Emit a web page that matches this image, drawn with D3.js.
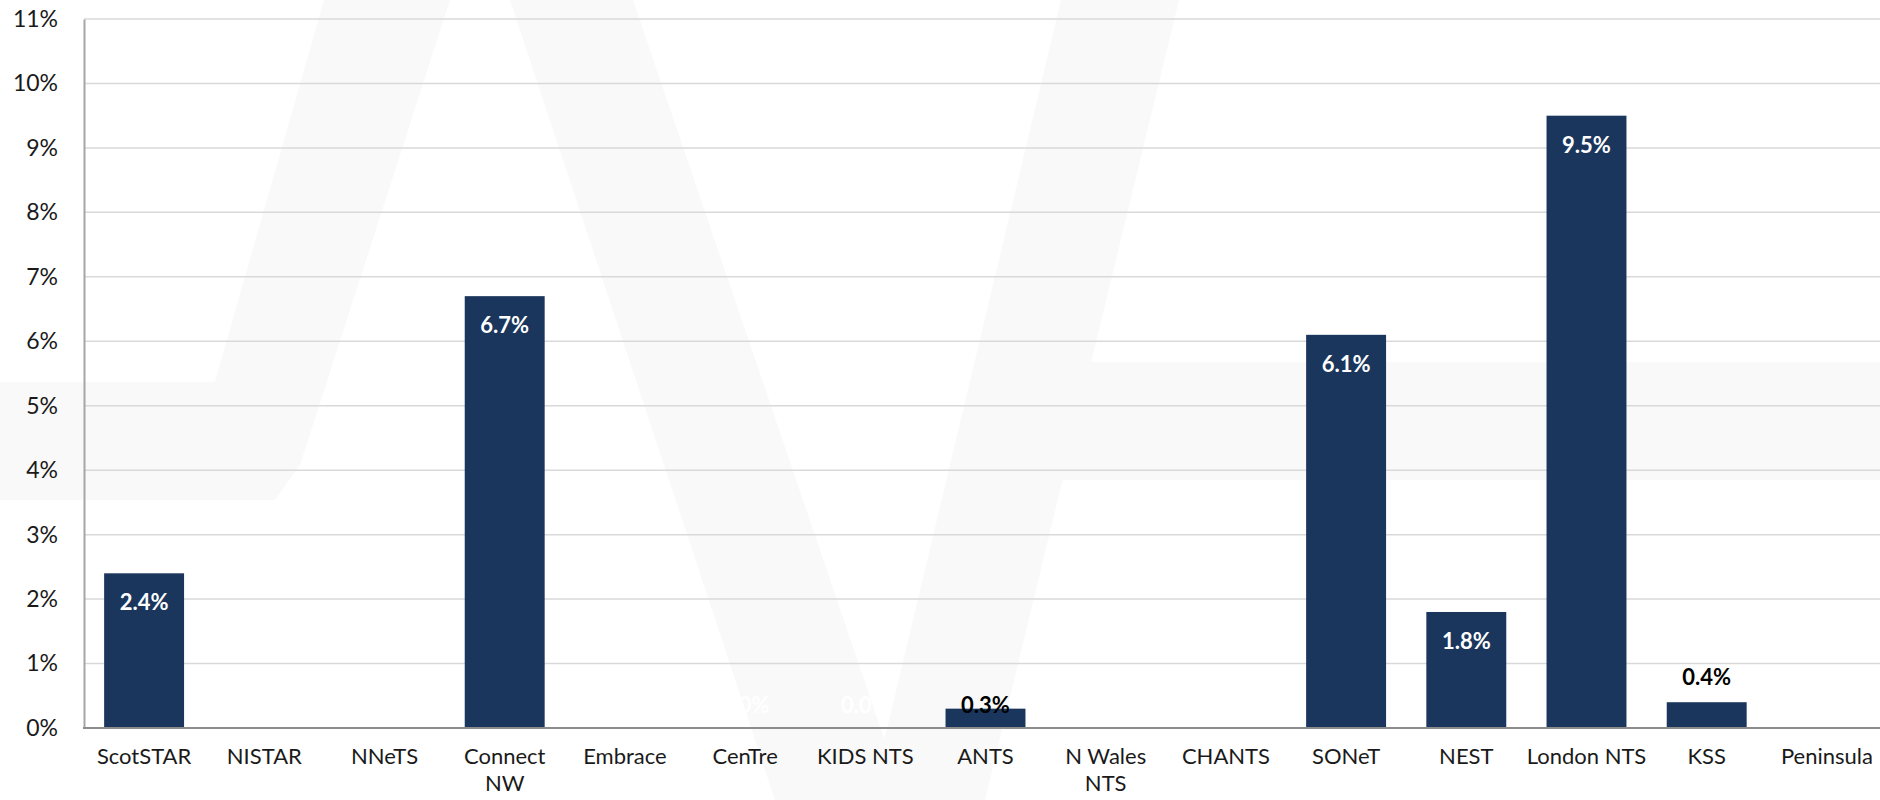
<!DOCTYPE html>
<html>
<head>
<meta charset="utf-8">
<script src="https://cdn.jsdelivr.net/npm/d3@7"></script>
<style>
  html, body { margin: 0; padding: 0; background: #ffffff; }
  svg { display: block; }
  text { font-family: Lato, "Open Sans", sans-serif; }
</style>
</head>
<body>
<svg id="chart" width="1880" height="800"></svg>
<script>
// ---- data ----
const categories = ["ScotSTAR", "NISTAR", "NNeTS", "Connect NW", "Embrace", "CenTre", "KIDS NTS", "ANTS", "N Wales NTS", "CHANTS", "SONeT", "NEST", "London NTS", "KSS", "Peninsula"];
const values = [2.4, 0.0, 0.0, 6.7, 0.0, 0.0, 0.0, 0.3, null, null, 6.1, 1.8, 9.5, 0.4, null];
const yTicks = [0, 1, 2, 3, 4, 5, 6, 7, 8, 9, 10, 11];
const outsideEndLabels = ["KSS"];

// ---- layout ----
const W = 1880, H = 800;
const margin = { left: 84, top: 19, bottom: 72 };
const plotRight = 1887;
const svg = d3.select("#chart");

const x = d3.scaleBand()
  .domain(categories)
  .range([margin.left, plotRight])
  .paddingInner(0.335)
  .paddingOuter(0.1675);

const y = d3.scaleLinear()
  .domain([0, 11])
  .range([H - margin.bottom, margin.top]);

// ---- faint background watermark ----
const wm = svg.append("g").attr("fill", "#f9f9f9");
const poly = d3.line();
wm.append("path").attr("d", poly([[324,0],[450,0],[300,465],[275,500],[0,500],[0,382],[215,382]]) + "Z");
wm.append("path").attr("d", poly([[510,0],[633,0],[905,800],[775,800]]) + "Z");
wm.append("path").attr("d", poly([[1061,0],[1179,0],[985,800],[870,800]]) + "Z");
wm.append("path").attr("d", poly([[1010,362],[1880,362],[1880,480],[1063,480],[975,480],[985,380]]) + "Z");

// ---- gridlines ----
svg.append("g")
  .selectAll("line")
  .data(yTicks.filter(d => d > 0))
  .join("line")
  .attr("x1", margin.left)
  .attr("x2", W)
  .attr("y1", d => y(d))
  .attr("y2", d => y(d))
  .attr("stroke", "#d9d9d9")
  .attr("stroke-width", 1.5);

// ---- y axis ----
const yAxis = svg.append("g")
  .attr("transform", `translate(${margin.left},0)`)
  .call(d3.axisLeft(y).tickValues(yTicks).tickSize(0).tickSizeOuter(0).tickPadding(26).tickFormat(d => d + "%"));
yAxis.select(".domain").attr("stroke", "#a6a6a6").attr("stroke-width", 2);
yAxis.selectAll("text")
  .attr("font-size", 23)
  .attr("fill", "#1a1a1a")
  .style("font-family", "Lato, sans-serif");

// ---- bars ----
const data = categories.map((c, i) => ({ c, v: values[i] }));
svg.append("g")
  .selectAll("rect")
  .data(data.filter(d => d.v !== null && d.v > 0))
  .join("rect")
  .attr("x", d => x(d.c))
  .attr("width", x.bandwidth())
  .attr("y", d => y(d.v))
  .attr("height", d => y(0) - y(d.v))
  .attr("fill", "#1a365d");

// ---- x axis ----
const xAxis = svg.append("g")
  .attr("transform", `translate(0,${y(0)})`)
  .call(d3.axisBottom(x).tickSize(0).tickSizeOuter(0).tickPadding(20));
xAxis.select(".domain").remove();
svg.append("line")
  .attr("x1", margin.left - 1).attr("x2", W)
  .attr("y1", y(0)).attr("y2", y(0))
  .attr("stroke", "#8c8c8c").attr("stroke-width", 2);

xAxis.selectAll("text")
  .attr("font-size", 22)
  .attr("fill", "#1a1a1a")
  .style("font-family", "Lato, sans-serif")
  .each(function () {
    const t = d3.select(this);
    const words = t.text().split(/\s+/);
    const maxW = x.step() + 1;
    t.text(null);
    let line = [];
    let tspan = t.append("tspan").attr("x", 0).attr("dy", "0.71em");
    words.forEach(w => {
      line.push(w);
      tspan.text(line.join(" "));
      if (tspan.node().getComputedTextLength() > maxW && line.length > 1) {
        line.pop();
        tspan.text(line.join(" "));
        line = [w];
        tspan = t.append("tspan").attr("x", 0).attr("dy", "27px").text(w);
      }
    });
  });

// ---- data labels ----
svg.append("g")
  .selectAll("text")
  .data(data.filter(d => d.v !== null))
  .join("text")
  .attr("x", d => x(d.c) + x.bandwidth() / 2)
  .attr("y", d => {
    if (outsideEndLabels.includes(d.c)) return y(d.v) - 17;
    return Math.min(y(d.v) + 37, y(0) - 15);
  })
  .attr("text-anchor", "middle")
  .attr("font-size", 22)
  .attr("font-weight", "bold")
  .attr("fill", d => (d.v > 0 && d.v < 1) ? "#000000" : "#ffffff")
  .text(d => d.v.toFixed(1) + "%");
</script>
</body>
</html>
